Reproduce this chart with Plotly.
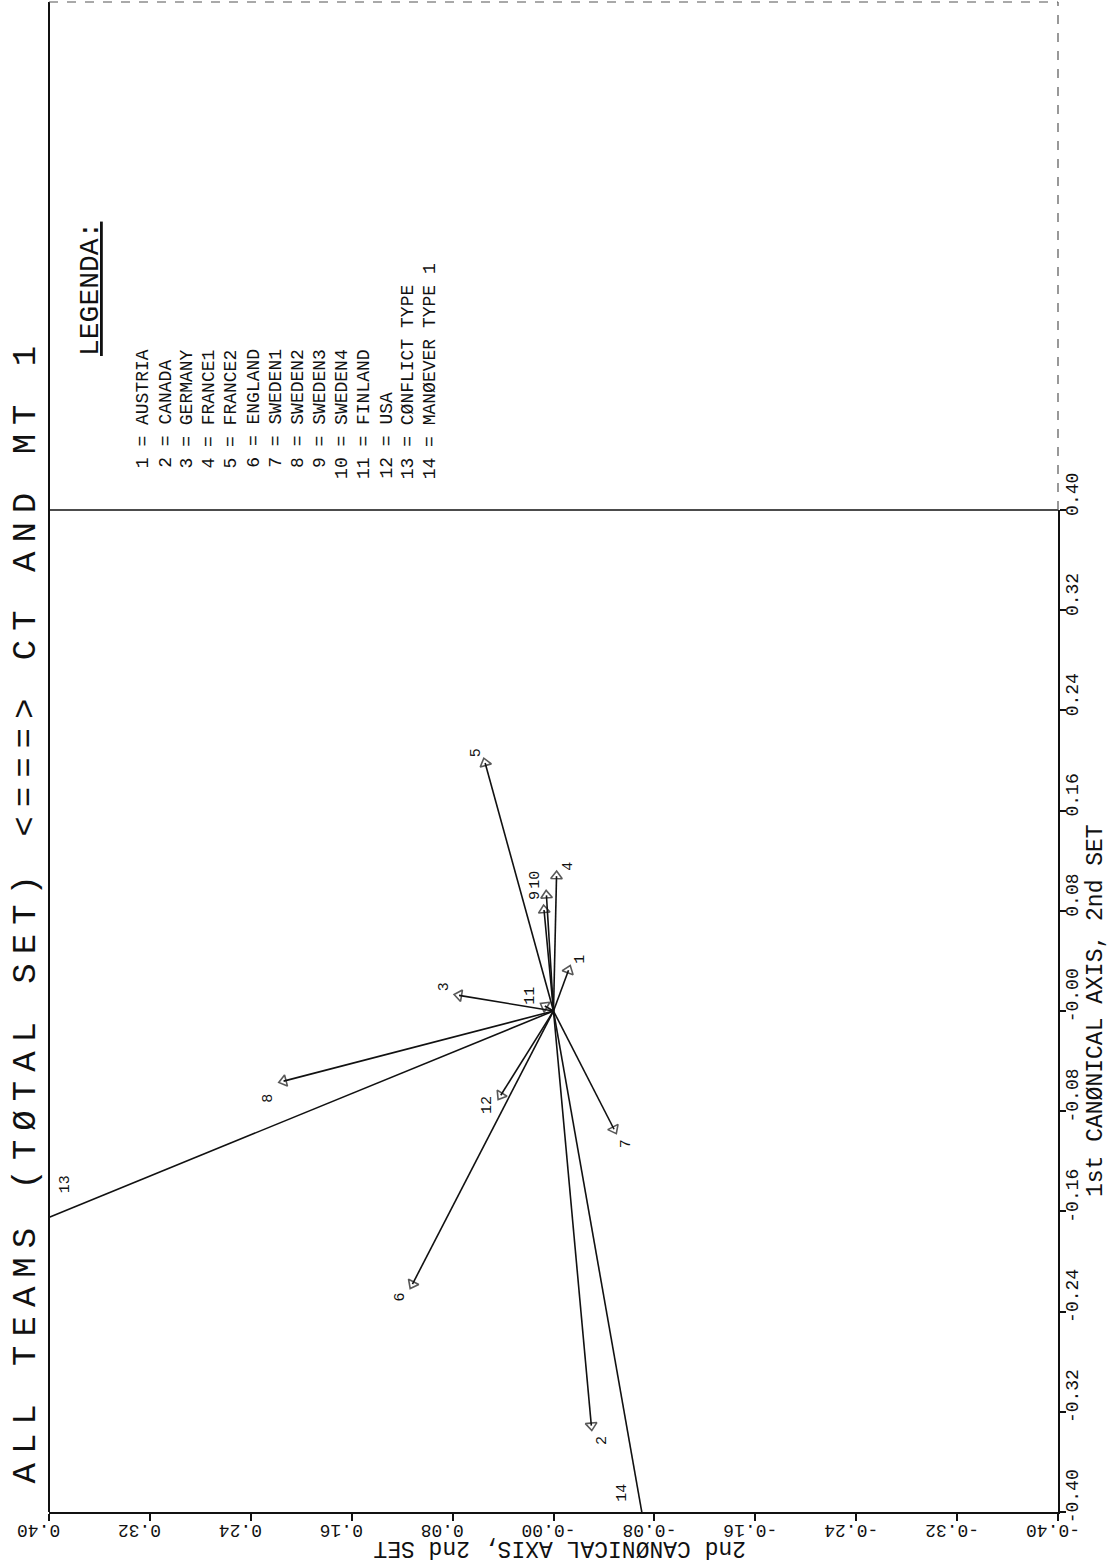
import plotly.graph_objects as go

# ---------------- data ----------------
item_ids = list(range(1, 15))
item_names = ["AUSTRIA", "CANADA", "GERMANY", "FRANCE1", "FRANCE2", "ENGLAND",
              "SWEDEN1", "SWEDEN2", "SWEDEN3", "SWEDEN4", "FINLAND", "USA",
              "CØNFLICT TYPE", "MANØEVER TYPE 1"]
# loadings on the 1st canonical axis (drawn vertically in the rotated page)
canon1 = [0.0325, -0.331, 0.0125, 0.1077, 0.198, -0.218, -0.0944, -0.056,
          0.0806, 0.0923, 0.004, -0.0673, -0.173, -0.42]
# loadings on the 2nd canonical axis (drawn horizontally, reversed)
canon2 = [-0.0119, -0.030, 0.0749, -0.0024, 0.0542, 0.1118, -0.048, 0.214,
          0.0075, 0.0056, 0.0069, 0.0418, 0.42, -0.0735]
tick_vals = [-0.40, -0.32, -0.24, -0.16, -0.08, 0.0, 0.08, 0.16, 0.24, 0.32, 0.40]
tick_text = ["-0.40", "-0.32", "-0.24", "-0.16", "-0.08", "-0.00",
             "0.08", "0.16", "0.24", "0.32", "0.40"]
title_text = "ALL TEAMS (TØTAL SET) <===> CT AND MT 1"
axis1_title = "1st CANØNICAL AXIS, 2nd SET"
axis2_title = "2nd CANØNICAL AXIS, 2nd SET"
legend_title = "LEGENDA:"

# ---------------- layout / style ----------------
W, H = 1116, 1563
ML, MR, MT, MB = 49, 58, 510, 51
PW, PH = W - ML - MR, H - MT - MB
FONT = "Liberation Mono, DejaVu Sans Mono, monospace"
INK = "#111111"
# pixel offsets of each number label relative to its arrow tip (xshift, yshift)
label_shift = [(12, 11), (11, -15), (-15, 8), (12, 10), (-9, 10), (-12, -13),
               (12, -15), (-15, -17), (-9, 14), (-11, 16), (-14, 10), (-13, -10),
               (16, 33), (-20, 19)]


def fx(xp):
    return (xp - ML) / PW


def fy(yp):
    return (H - MB - yp) / PH


fig = go.Figure()

for i in range(len(item_ids)):
    fig.add_trace(go.Scatter(
        x=[0, canon2[i]], y=[0, canon1[i]], mode="lines+markers",
        line=dict(color=INK, width=1.6),
        marker=dict(symbol=["circle", "triangle-up-open"], size=[0, 10],
                    color=INK, angleref="previous",
                    line=dict(color=INK, width=1.6)),
        hoverinfo="skip", showlegend=False))

annotations = []
for i in range(len(item_ids)):
    x, y = canon2[i], canon1[i]
    # arrows leaving the frame: label where they cross the frame
    s = 1.0
    if abs(x) > 0.40:
        s = min(s, 0.40 / abs(x))
    if abs(y) > 0.40:
        s = min(s, 0.40 / abs(y))
    annotations.append(dict(
        x=x * s, y=y * s, xref="x", yref="y", text=str(item_ids[i]),
        showarrow=False, textangle=-90,
        xshift=label_shift[i][0], yshift=label_shift[i][1],
        font=dict(family=FONT, size=15, color=INK)))

# legend block
for i in range(len(item_ids)):
    txt = f"{item_ids[i]:>2} = {item_names[i]}".replace(" ", "\u00a0")
    annotations.append(dict(
        x=fx(143 + i * 22.1), y=fy(481), xref="paper", yref="paper",
        text=txt, showarrow=False, textangle=-90,
        xanchor="center", yanchor="bottom",
        font=dict(family=FONT, size=18, color=INK)))

annotations.append(dict(
    x=fx(90), y=fy(358), xref="paper", yref="paper",
    text=f"<u>{legend_title}</u>", showarrow=False, textangle=-90,
    xanchor="center", yanchor="bottom",
    font=dict(family=FONT, size=28, color=INK)))

annotations.append(dict(
    x=fx(25), y=fy(1486), xref="paper", yref="paper",
    text='<span style="letter-spacing:9px">'
         + title_text.replace(" ", "\u00a0") + "</span>",
    showarrow=False, textangle=-90, xanchor="center", yanchor="bottom",
    font=dict(family=FONT, size=34, color=INK)))

annotations.append(dict(
    x=fx(560), y=fy(1548), xref="paper", yref="paper",
    text=axis2_title, showarrow=False, textangle=180,
    xanchor="center", yanchor="middle",
    font=dict(family=FONT, size=23, color=INK)))

annotations.append(dict(
    x=fx(1096), y=fy(1011), xref="paper", yref="paper",
    text=axis1_title, showarrow=False, textangle=-90,
    xanchor="center", yanchor="middle",
    font=dict(family=FONT, size=23, color=INK)))

shapes = [
    # left frame edge (full height)
    dict(type="line", xref="paper", yref="paper", x0=0, x1=0, y0=0, y1=fy(2),
         line=dict(color=INK, width=2)),
    # divider between plot and legend
    dict(type="line", xref="paper", yref="paper", x0=0, x1=1, y0=1, y1=1,
         line=dict(color=INK, width=1.5)),
    # top edge and upper right edge (faint, broken)
    dict(type="line", xref="paper", yref="paper", x0=0, x1=1, y0=fy(2), y1=fy(2),
         line=dict(color="#555555", width=1.2, dash="dash")),
    dict(type="line", xref="paper", yref="paper", x0=1, x1=1, y0=1, y1=fy(2),
         line=dict(color="#555555", width=1.2, dash="dash")),
]

fig.update_layout(
    width=W, height=H,
    margin=dict(l=ML, r=MR, t=MT, b=MB, pad=0),
    paper_bgcolor="white", plot_bgcolor="white",
    showlegend=False,
    annotations=annotations, shapes=shapes,
    xaxis=dict(range=[0.40, -0.40], tickvals=tick_vals, ticktext=tick_text,
               tickangle=180, ticks="outside", ticklen=7, tickwidth=1.5,
               tickcolor=INK, showline=True, linecolor=INK, linewidth=2,
               showgrid=False, zeroline=False, ticklabelshift=32,
               tickfont=dict(family=FONT, size=18, color=INK)),
    yaxis=dict(range=[-0.40, 0.40], tickvals=tick_vals, ticktext=tick_text,
               side="right", tickangle=-90, ticks="outside", ticklen=6,
               tickwidth=1.5, tickcolor=INK, showline=True, linecolor=INK,
               linewidth=2, showgrid=False, zeroline=False, ticklabelshift=-13,
               ticklabelstandoff=-10,
               tickfont=dict(family=FONT, size=18, color=INK)),
)

fig.write_html("out.html",
               config={"displayModeBar": False},
               post_script="document.body.style.margin='0';"
                           "document.body.style.overflow='hidden';")
